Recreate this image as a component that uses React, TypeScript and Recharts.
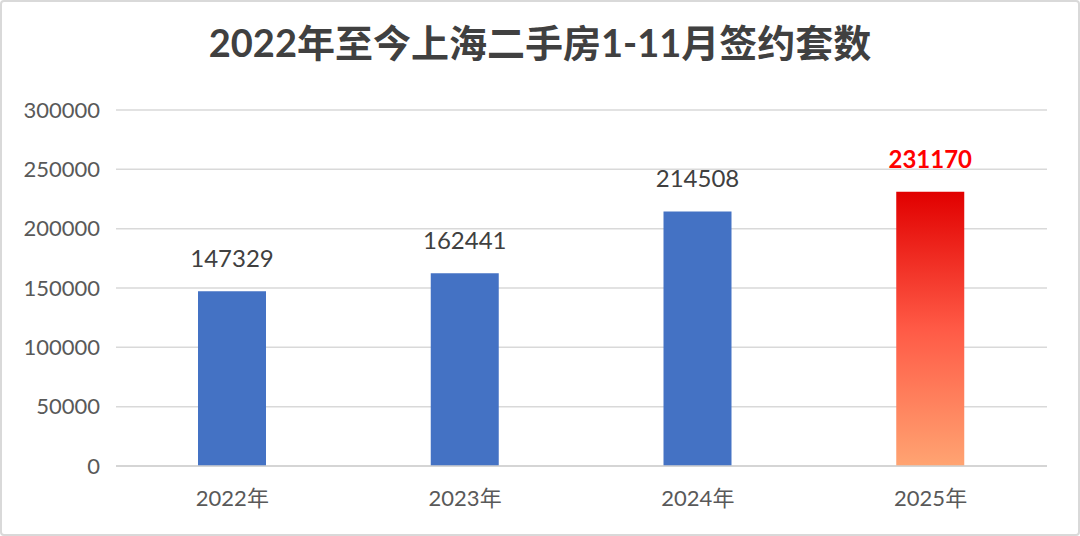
import { Bar, BarChart, CartesianGrid, Cell, LabelList, XAxis, YAxis } from 'recharts'

const years = ['2022年', '2023年', '2024年', '2025年']
const deals = [147329, 162441, 214508, 231170]
const yTicks = [0, 50000, 100000, 150000, 200000, 250000, 300000]

const data = years.map((year, i) => ({ year, deals: deals[i] }))
const lastIndex = data.length - 1

const latin = "Lato, 'Noto Sans CJK SC', sans-serif"

function ValueLabel(props: any) {
  const { x, y, width, value, index } = props
  const highlight = index === lastIndex
  return (
    <text
      x={x + width / 2}
      y={y - 24}
      textAnchor="middle"
      fontFamily={latin}
      fontSize={24}
      fontWeight={highlight ? 700 : 400}
      fill={highlight ? '#ff0000' : '#404040'}
    >
      {value}
    </text>
  )
}

export default function App() {
  return (
    <div
      style={{
        position: 'relative',
        width: 1080,
        height: 536,
        boxSizing: 'border-box',
        border: '2px solid #d9d9d9',
        borderRadius: 4,
        background: '#fff',
        overflow: 'hidden',
      }}
    >
      <style>{'body{margin:0}'}</style>
      <div
        style={{
          position: 'absolute',
          top: 16,
          left: 0,
          width: '100%',
          textAlign: 'center',
          fontFamily: latin,
          fontWeight: 700,
          fontSize: 38,
          lineHeight: '48px',
          color: '#404040',
        }}
      >
        2022年至今上海二手房1-11月签约套数
      </div>
      <div style={{ position: 'absolute', left: -2, top: -2 }}>
        <BarChart width={1080} height={536} data={data} margin={{ top: 110, right: 33, left: 0, bottom: 40 }}>
          <defs>
            <linearGradient id="redGrad" x1="0" y1="0" x2="0" y2="1">
              <stop offset="0%" stopColor="#e10000" />
              <stop offset="50%" stopColor="#ff5a46" />
              <stop offset="100%" stopColor="#ffa472" />
            </linearGradient>
          </defs>
          <CartesianGrid vertical={false} stroke="#d9d9d9" strokeWidth={1.5} />
          <XAxis
            dataKey="year"
            height={30}
            axisLine={{ stroke: '#d0d0d0', strokeWidth: 1.5 }}
            tickLine={false}
            tickMargin={18}
            tick={{ fontFamily: latin, fontSize: 22, fill: '#595959' }}
          />
          <YAxis
            width={116}
            domain={[0, 300000]}
            ticks={yTicks}
            axisLine={false}
            tickLine={false}
            tickSize={0}
            tickMargin={16}
            tick={{ fontFamily: latin, fontSize: 22, fill: '#595959' }}
          />
          <Bar dataKey="deals" barSize={68} isAnimationActive={false}>
            {data.map((d, i) => (
              <Cell key={d.year} fill={i === lastIndex ? 'url(#redGrad)' : '#4472c4'} />
            ))}
            <LabelList dataKey="deals" content={ValueLabel} />
          </Bar>
        </BarChart>
      </div>
    </div>
  )
}
